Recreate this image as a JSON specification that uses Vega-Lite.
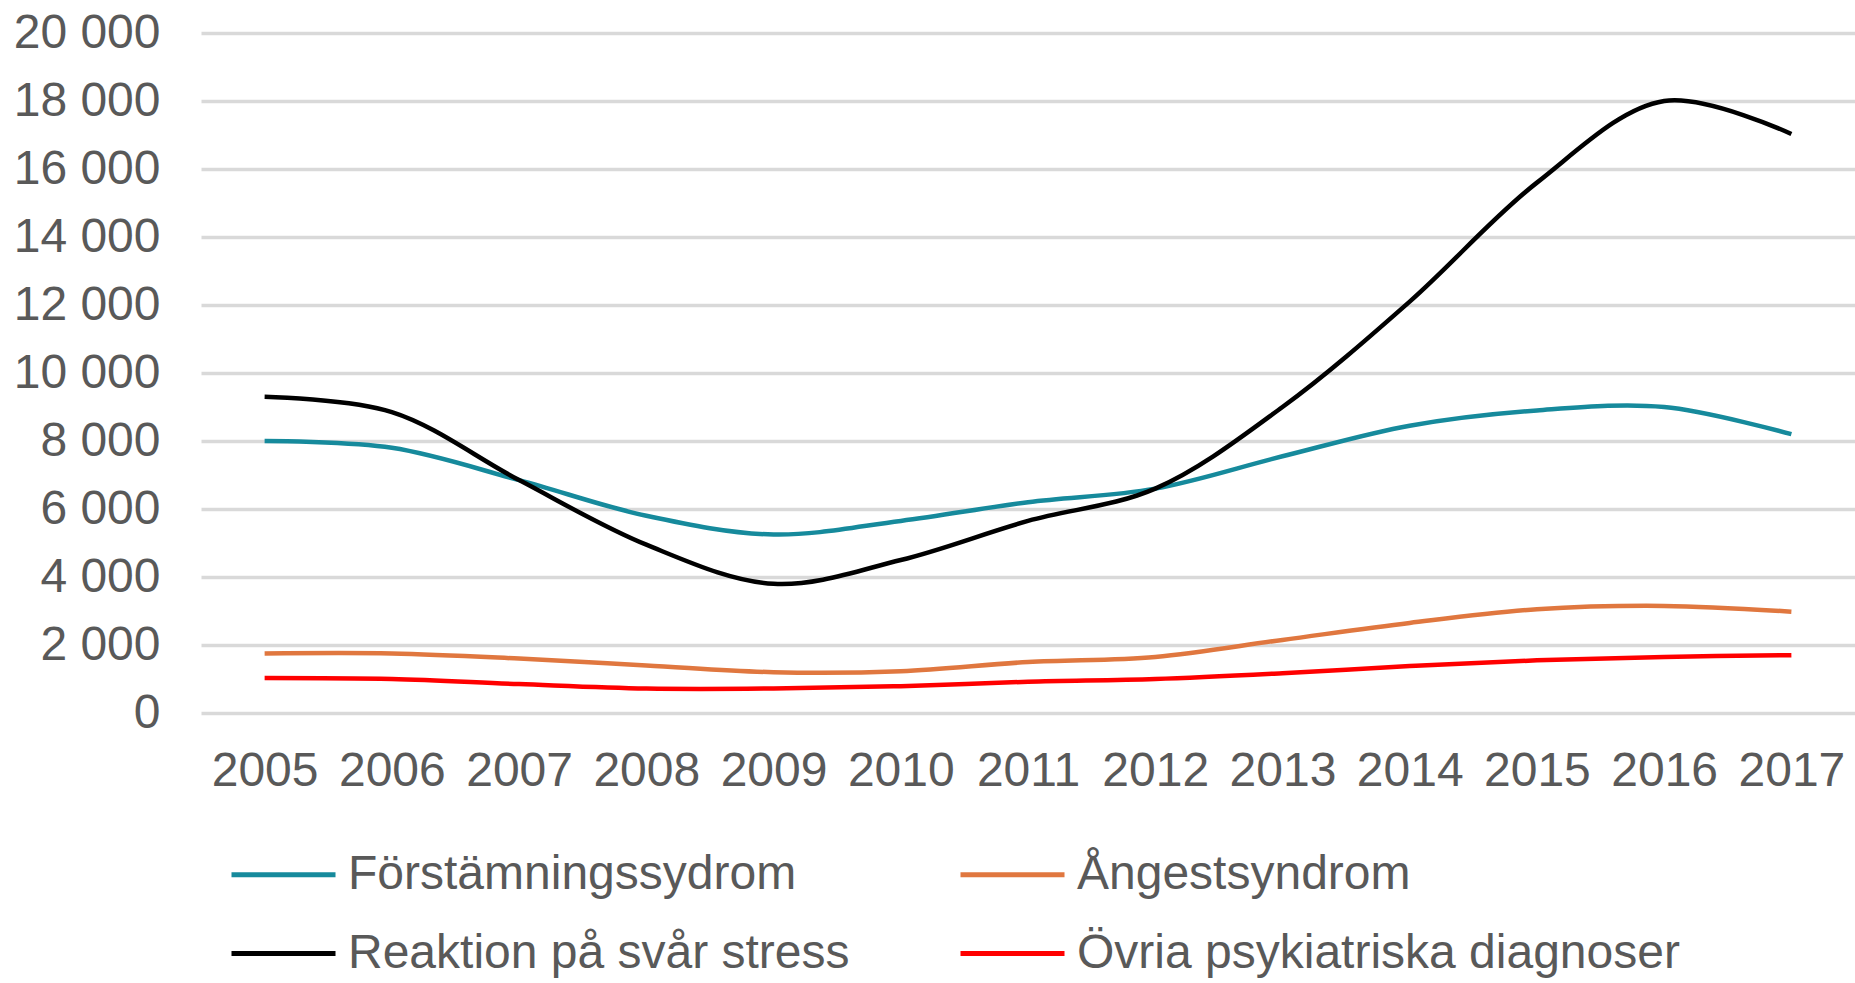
{
  "$schema": "https://vega.github.io/schema/vega-lite/v6.json",
  "autosize": {"type": "none"},
  "padding": {"left": 201, "top": 33, "right": 0, "bottom": 270},
  "width": 1654,
  "height": 680,
  "background": "white",
  "config": {
    "view": {"stroke": null},
    "font": "Liberation Sans",
    "axis": {"labelFont": "Liberation Sans", "labelColor": "#595959", "labelFontSize": 48}
  },
  "datasets": {
    "d": [
      {"year": "2005", "s": "Förstämningssydrom", "v": 8000},
      {"year": "2006", "s": "Förstämningssydrom", "v": 7800},
      {"year": "2007", "s": "Förstämningssydrom", "v": 6850},
      {"year": "2008", "s": "Förstämningssydrom", "v": 5800},
      {"year": "2009", "s": "Förstämningssydrom", "v": 5250},
      {"year": "2010", "s": "Förstämningssydrom", "v": 5650},
      {"year": "2011", "s": "Förstämningssydrom", "v": 6200},
      {"year": "2012", "s": "Förstämningssydrom", "v": 6600},
      {"year": "2013", "s": "Förstämningssydrom", "v": 7550},
      {"year": "2014", "s": "Förstämningssydrom", "v": 8450},
      {"year": "2015", "s": "Förstämningssydrom", "v": 8900},
      {"year": "2016", "s": "Förstämningssydrom", "v": 9000},
      {"year": "2017", "s": "Förstämningssydrom", "v": 8200},
      {"year": "2005", "s": "Ångestsyndrom", "v": 1750},
      {"year": "2006", "s": "Ångestsyndrom", "v": 1750},
      {"year": "2007", "s": "Ångestsyndrom", "v": 1600},
      {"year": "2008", "s": "Ångestsyndrom", "v": 1400},
      {"year": "2009", "s": "Ångestsyndrom", "v": 1200},
      {"year": "2010", "s": "Ångestsyndrom", "v": 1230},
      {"year": "2011", "s": "Ångestsyndrom", "v": 1500},
      {"year": "2012", "s": "Ångestsyndrom", "v": 1650},
      {"year": "2013", "s": "Ångestsyndrom", "v": 2150},
      {"year": "2014", "s": "Ångestsyndrom", "v": 2650},
      {"year": "2015", "s": "Ångestsyndrom", "v": 3050},
      {"year": "2016", "s": "Ångestsyndrom", "v": 3150},
      {"year": "2017", "s": "Ångestsyndrom", "v": 2980},
      {"year": "2005", "s": "Reaktion på svår stress", "v": 9300},
      {"year": "2006", "s": "Reaktion på svår stress", "v": 8850},
      {"year": "2007", "s": "Reaktion på svår stress", "v": 6850},
      {"year": "2008", "s": "Reaktion på svår stress", "v": 4950},
      {"year": "2009", "s": "Reaktion på svår stress", "v": 3800},
      {"year": "2010", "s": "Reaktion på svår stress", "v": 4500},
      {"year": "2011", "s": "Reaktion på svår stress", "v": 5650},
      {"year": "2012", "s": "Reaktion på svår stress", "v": 6600},
      {"year": "2013", "s": "Reaktion på svår stress", "v": 9000},
      {"year": "2014", "s": "Reaktion på svår stress", "v": 12100},
      {"year": "2015", "s": "Reaktion på svår stress", "v": 15600},
      {"year": "2016", "s": "Reaktion på svår stress", "v": 18000},
      {"year": "2017", "s": "Reaktion på svår stress", "v": 17030},
      {"year": "2005", "s": "Övria psykiatriska diagnoser", "v": 1030},
      {"year": "2006", "s": "Övria psykiatriska diagnoser", "v": 1000},
      {"year": "2007", "s": "Övria psykiatriska diagnoser", "v": 850},
      {"year": "2008", "s": "Övria psykiatriska diagnoser", "v": 720},
      {"year": "2009", "s": "Övria psykiatriska diagnoser", "v": 720},
      {"year": "2010", "s": "Övria psykiatriska diagnoser", "v": 790},
      {"year": "2011", "s": "Övria psykiatriska diagnoser", "v": 920},
      {"year": "2012", "s": "Övria psykiatriska diagnoser", "v": 1000},
      {"year": "2013", "s": "Övria psykiatriska diagnoser", "v": 1170},
      {"year": "2014", "s": "Övria psykiatriska diagnoser", "v": 1380},
      {"year": "2015", "s": "Övria psykiatriska diagnoser", "v": 1550},
      {"year": "2016", "s": "Övria psykiatriska diagnoser", "v": 1650},
      {"year": "2017", "s": "Övria psykiatriska diagnoser", "v": 1700}
    ]
  },
  "data": {"name": "d"},
  "mark": {"type": "line", "interpolate": "catmull-rom", "strokeWidth": 4.5},
  "encoding": {
    "x": {
      "field": "year", "type": "ordinal",
      "scale": {"padding": 0.5},
      "axis": {"title": null, "labelAngle": 0, "domain": false, "ticks": false, "labelPadding": 34, "grid": false}
    },
    "y": {
      "field": "v", "type": "quantitative",
      "scale": {"domain": [0, 20000], "nice": false},
      "axis": {
        "title": null, "values": [0, 2000, 4000, 6000, 8000, 10000, 12000, 14000, 16000, 18000, 20000],
        "labelExpr": "replace(format(datum.value, ','), ',', ' ')",
        "domain": false, "ticks": false, "tickSize": 0, "labelPadding": 41,
        "grid": true, "gridColor": "#d9d9d9", "gridWidth": 3.5
      }
    },
    "color": {
      "field": "s", "type": "nominal",
      "scale": {
        "domain": ["Förstämningssydrom", "Ångestsyndrom", "Reaktion på svår stress", "Övria psykiatriska diagnoser"],
        "range": ["#168a9c", "#e0773f", "#000000", "#ff0000"]
      },
      "legend": {
        "title": null, "orient": "none", "legendX": 28, "legendY": 787,
        "direction": "horizontal", "columns": 2,
        "symbolType": "stroke", "symbolSize": 10816, "symbolStrokeWidth": 5,
        "labelFontSize": 48, "labelColor": "#595959", "labelFont": "Liberation Sans",
        "labelOffset": 10, "columnPadding": 100, "rowPadding": 0, "labelLimit": 800
      }
    },
    "order": {"field": "year"}
  }
}
